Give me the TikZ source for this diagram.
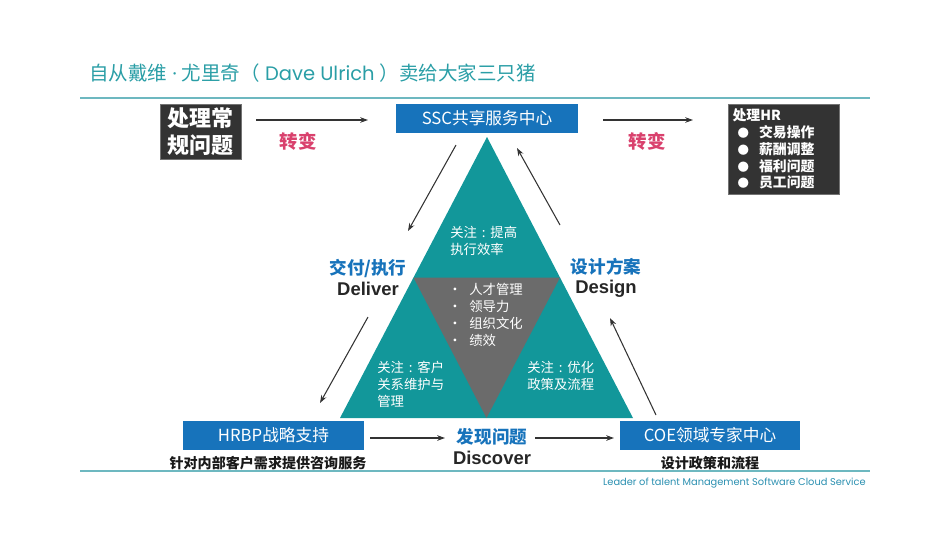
\documentclass[tikz,border=0pt]{standalone}
\usepackage{fontspec}
\newfontfamily\cjk{Noto Sans CJK SC}
\newfontfamily\arial{Liberation Sans}
\newfontfamily\gothic{Poppins}
\usetikzlibrary{arrows.meta,calc}
\definecolor{titleteal}{HTML}{2A9EA6}
\definecolor{ruleteal}{HTML}{6DB8C0}
\definecolor{tri}{HTML}{12979A}
\definecolor{trigray}{HTML}{6B6B6B}
\definecolor{boxblue}{HTML}{1773BB}
\definecolor{darkbox}{HTML}{333333}
\definecolor{pinkred}{HTML}{D9416D}
\definecolor{footblue}{HTML}{2A8FB0}
\newcommand{\ncolon}{\makebox[1em][c]{:}}
\newcommand{\hrdot}{\hspace{0.1cm}\makebox[0.43cm][l]{\fontsize{6.5}{6.5}\selectfont ●}}
\newcommand{\coredot}{\makebox[0.42cm][l]{•}}
\tikzset{
  arr/.style={-{Stealth[length=4.5pt,width=3.2pt]},line width=0.6pt,draw=black!80},
  bluebox/.style={fill=boxblue,text=white,inner sep=0pt,minimum height=0.57cm,
    font=\cjk\fontsize{9.5}{11}\selectfont},
  blackbox/.style={fill=darkbox,draw=black!55,line width=0.4pt,text=white,inner sep=0pt},
  trinote/.style={anchor=north west,inner sep=0pt,align=left,text=white,
    font=\cjk\fontsize{7.6}{9.6}\selectfont},
  bluehead/.style={text=boxblue,inner sep=0pt,font=\cjk\bfseries\fontsize{10}{12}\selectfont},
  enghead/.style={text=black!85,inner sep=0pt,font=\arial\bfseries\fontsize{10.5}{12}\selectfont},
  changelbl/.style={text=pinkred,inner sep=0pt,font=\cjk\bfseries\fontsize{10.5}{12}\selectfont},
  subnote/.style={text=black!90,inner sep=0pt,font=\cjk\bfseries\fontsize{8}{10}\selectfont}
}
\begin{document}
\begin{tikzpicture}[x=0.02cm,y=-0.02cm]
\useasboundingbox (0,0) rectangle (950,535);
% title and rules
\node (title) at (89,73)[anchor=west,inner sep=0pt,text=titleteal,font=\fontsize{11.1}{13}\selectfont]
  {\cjk 自从戴维\gothic{} · \cjk 尤里奇（\gothic{} Dave Ulrich \cjk ）卖给大家三只猪};
\draw[ruleteal,line width=0.9pt] (80,98)--(870,98);
\draw[ruleteal,line width=0.9pt] (80,471)--(870,471);
\node (foot) at (866,483)[anchor=east,inner sep=0pt,text=footblue,font=\gothic\fontsize{5.6}{7}\selectfont]
  {Leader of talent Management Software Cloud Service};

% top row
\node (routine) at (200.5,131.5)[blackbox,minimum width=1.62cm,minimum height=1.1cm,align=center,
  font=\cjk\bfseries\fontsize{12.5}{15.5}\selectfont]{处理常\\规问题};
\node (ssc) at (487,118.5)[bluebox,minimum width=3.64cm]{SSC共享服务中心};
\node (hr) at (783.5,149)[blackbox,minimum width=2.22cm,minimum height=1.8cm,text width=2.04cm,align=left,
  font=\cjk\bfseries\fontsize{7.9}{9.6}\selectfont]
  {处理HR\\ \hrdot 交易操作\\ \hrdot 薪酬调整\\ \hrdot 福利问题\\ \hrdot 员工问题};
\node (shl) at (298,141)[changelbl]{转变};
\node (shr) at (647,141)[changelbl]{转变};
\coordinate (a1s) at (256,120);
\coordinate (a1e) at (368,120);
\coordinate (a2s) at (603,120);
\coordinate (a2e) at (693,120);
\draw[arr] (a1s)--(a1e);
\draw[arr] (a2s)--(a2e);

% triangle
\coordinate (top) at (487,137);
\coordinate (bl) at (340,418);
\coordinate (br) at (633,418);
\fill[tri] (top)--(bl)--(br)--cycle;
\fill[trigray] ($(top)!0.5!(bl)$)--($(top)!0.5!(br)$)--($(bl)!0.5!(br)$)--cycle;
\node (ntop) at (450,226)[trinote]{关注\ncolon 提高\\执行效率};
\node (nleft) at (377,361)[trinote]{关注\ncolon 客户\\关系维护与\\管理};
\node (nright) at (527,361)[trinote]{关注\ncolon 优化\\政策及流程};
\node (core) at (448,283)[trinote]{\coredot 人才管理\\ \coredot 领导力\\ \coredot 组织文化\\ \coredot 绩效};

% side labels
\node (deliver) at (368,268)[bluehead]{交付/执行};
\node (delivere) at (368,289)[enghead]{Deliver};
\node (design) at (606,267)[bluehead]{设计方案};
\node (designe) at (606,289)[enghead]{Design};
\coordinate (l1s) at (456,145);
\coordinate (l1e) at (408,231);
\coordinate (l2s) at (368,317);
\coordinate (l2e) at (320,403);
\coordinate (r1s) at (560,225);
\coordinate (r1e) at (517,148);
\coordinate (r2s) at (656,415);
\coordinate (r2e) at (610,318);
\draw[arr] (l1s)--(l1e);
\draw[arr] (l2s)--(l2e);
\draw[arr] (r1s)--(r1e);
\draw[arr] (r2s)--(r2e);

% bottom row
\node (hrbp) at (273.5,435.5)[bluebox,minimum width=3.62cm]{HRBP战略支持};
\node (coe) at (710,435.5)[bluebox,minimum width=3.6cm]{COE领域专家中心};
\node (discover) at (492,437)[bluehead]{发现问题};
\node (discovere) at (492,458)[enghead]{Discover};
\coordinate (b1s) at (370,438);
\coordinate (b1e) at (445,438);
\coordinate (b2s) at (535,438);
\coordinate (b2e) at (614,438);
\draw[arr] (b1s)--(b1e);
\draw[arr] (b2s)--(b2e);
\node (hrbpnote) at (268,463)[subnote]{针对内部客户需求提供咨询服务};
\node (coenote) at (710,463)[subnote]{设计政策和流程};
\end{tikzpicture}
\end{document}
